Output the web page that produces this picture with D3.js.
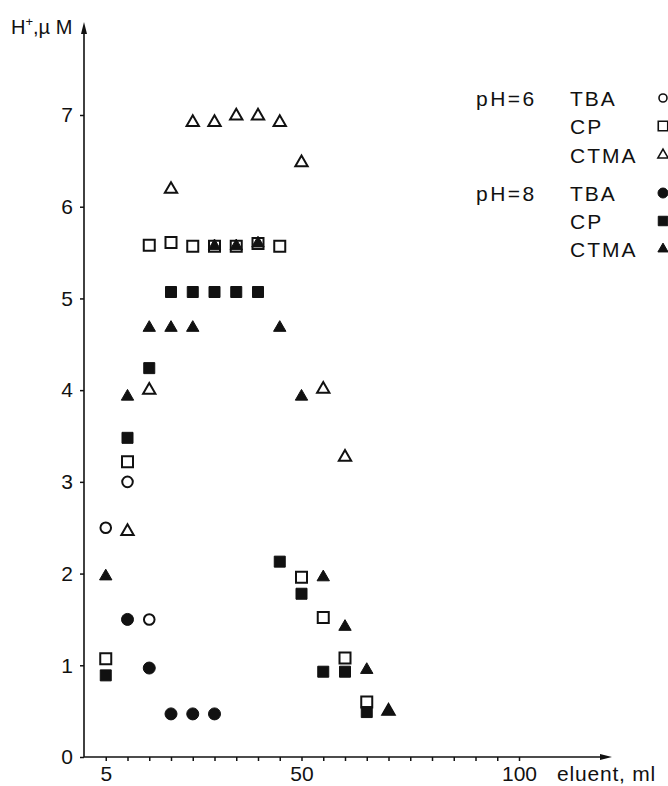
<!DOCTYPE html>
<html>
<head>
<meta charset="utf-8">
<script src="https://cdn.jsdelivr.net/npm/d3@7"></script>
<style>
  body { margin: 0; background: #fff; }
  text { font-family: "Liberation Sans", Arial, sans-serif; fill: #111; }
</style>
</head>
<body>
<script>
// eluent volume (ml) where fractions were collected
const eluent = [5, 10, 15, 20, 25, 30, 35, 40, 45, 50, 55, 60, 65, 70]

// H+ in uM, null = no point
const tba6  = [2.5, 3.0, 1.5, null, null, null, null, null, null, null, null, null, null, null]
const cp6   = [1.07, 3.22, 5.58, 5.61, 5.57, 5.57, 5.57, 5.6, 5.57, 1.96, 1.52, 1.08, 0.6, null]
const ctma6 = [null, 2.46, 4.0, 6.19, 6.92, 6.92, 6.99, 6.99, 6.92, 6.48, 4.01, 3.27, null, 0.5]
const tba8  = [null, 1.5, 0.97, 0.47, 0.47, 0.47, null, null, null, null, null, null, null, null]
const cp8   = [0.89, 3.48, 4.24, 5.07, 5.07, 5.07, 5.07, 5.07, 2.13, 1.78, 0.93, 0.93, 0.49, null]
const ctma8 = [1.97, 3.93, 4.68, 4.68, 4.68, 5.57, 5.57, 5.6, 4.68, 3.93, 1.96, 1.42, 0.95, 0.5]

const xTicks = [5, 10, 15, 20, 25, 30, 35, 40, 45, 50, 55, 60, 65, 70, 75, 80, 85, 90, 95, 100]
const xLabels = [5, 50, 100]
const yTicks = [0, 1, 2, 3, 4, 5, 6, 7]

const legendGroups = ['pH=6', 'pH=8']
const legendNames = ['TBA', 'CP', 'CTMA']

let svg = d3.select('body').append('svg')
    .attr('width', 668)
    .attr('height', 786)

let xScale = d3.scaleLinear()
    .domain([0, 100])
    .range([84, 519])

let yScale = d3.scaleLinear()
    .domain([0, 7])
    .range([757, 115])

// x axis, ticks every 5, labels only at 5, 50, 100
let xAxis = d3.axisBottom(xScale)
    .tickValues(xTicks)
    .tickSize(4)
    .tickFormat(function(d) { return xLabels.includes(d) ? d : '' })

let gx = svg.append('g')
    .attr('transform', 'translate(0,' + yScale(0) + ')')
    .call(xAxis)
gx.select('.domain').remove()
gx.selectAll('line').attr('stroke', '#111').attr('stroke-width', 1.5)
gx.selectAll('text').attr('font-size', 21).attr('dy', 0).attr('y', 24)

svg.append('line')
    .attr('x1', xScale(0)).attr('x2', 604)
    .attr('y1', yScale(0)).attr('y2', yScale(0))
    .attr('stroke', '#111').attr('stroke-width', 1.6)
svg.append('path')
    .attr('d', 'M612,' + yScale(0) + ' l-12,-3 l0,6 z')
    .attr('fill', '#111')

// y axis
let yAxis = d3.axisLeft(yScale)
    .tickValues(yTicks)
    .tickSize(4)
    .tickPadding(7)
    .tickFormat(d3.format('d'))

let gy = svg.append('g')
    .attr('transform', 'translate(' + xScale(0) + ',0)')
    .call(yAxis)
gy.select('.domain').remove()
gy.selectAll('line').attr('stroke', '#111').attr('stroke-width', 1.5)
gy.selectAll('text').attr('font-size', 21)

svg.append('line')
    .attr('x1', xScale(0)).attr('x2', xScale(0))
    .attr('y1', yScale(0)).attr('y2', 32)
    .attr('stroke', '#111').attr('stroke-width', 1.6)
svg.append('path')
    .attr('d', 'M' + xScale(0) + ',22 l-3,12 l6,0 z')
    .attr('fill', '#111')

// axis titles
let yt = svg.append('text')
    .attr('x', 11).attr('y', 34)
    .attr('font-size', 20)
yt.append('tspan').text('H')
yt.append('tspan').attr('font-size', 13).attr('dy', -8).text('+')
yt.append('tspan').attr('dy', 8).text(',\u00b5 M')

svg.append('text')
    .attr('x', 557).attr('y', 781)
    .attr('font-size', 21)
    .attr('letter-spacing', 0.8)
    .text('eluent, ml')

// markers
const sqr = d3.symbol().type(d3.symbolSquare).size(121)
const tri = d3.symbol().type(d3.symbolTriangle).size(66)

function points(values) {
    let pts = []
    for (let i = 0; i < eluent.length; i++) {
        if (values[i] !== null) pts.push([eluent[i], values[i]])
    }
    return pts
}

function drawSeries(values, kind, filled) {
    let g = svg.append('g')
    let sel = g.selectAll('.m').data(points(values)).enter()
    let m
    if (kind === 'circle') {
        m = sel.append('circle')
            .attr('cx', function(d) { return xScale(d[0]) })
            .attr('cy', function(d) { return yScale(d[1]) })
            .attr('r', filled ? 6 : 5.3)
    } else {
        m = sel.append('path')
            .attr('d', kind === 'square' ? sqr() : tri())
            .attr('transform', function(d) {
                return 'translate(' + xScale(d[0]) + ',' + yScale(d[1]) + ')'
            })
    }
    m.attr('fill', filled ? '#111' : 'none')
        .attr('stroke', '#111')
        .attr('stroke-width', filled ? 1 : 2)
}

drawSeries(tba6, 'circle', false)
drawSeries(cp6, 'square', false)
drawSeries(ctma6, 'triangle', false)
drawSeries(tba8, 'circle', true)
drawSeries(cp8, 'square', true)
drawSeries(ctma8, 'triangle', true)

// legend
const legendRows = [98, 126, 155, 193, 221, 249]
const kinds = ['circle', 'square', 'triangle']
let lg = svg.append('g')
for (let gi = 0; gi < legendGroups.length; gi++) {
    lg.append('text')
        .attr('x', 476).attr('y', legendRows[gi * 3] + 8)
        .attr('font-size', 21)
        .attr('letter-spacing', 2.5)
        .text(legendGroups[gi])
    for (let k = 0; k < legendNames.length; k++) {
        let cy = legendRows[gi * 3 + k]
        lg.append('text')
            .attr('x', 570).attr('y', cy + 8)
            .attr('font-size', 21)
            .attr('letter-spacing', 2)
            .text(legendNames[k])
        let filled = gi === 1
        if (kinds[k] === 'circle') {
            lg.append('circle').attr('cx', 663).attr('cy', cy)
                .attr('r', filled ? 5 : 4)
                .attr('fill', filled ? '#111' : 'none')
                .attr('stroke', '#111').attr('stroke-width', filled ? 1 : 1.6)
        } else {
            let sym = kinds[k] === 'square'
                ? d3.symbol().type(d3.symbolSquare).size(90)
                : d3.symbol().type(d3.symbolTriangle).size(45)
            lg.append('path').attr('d', sym())
                .attr('transform', 'translate(663,' + cy + ')')
                .attr('fill', filled ? '#111' : 'none')
                .attr('stroke', '#111').attr('stroke-width', filled ? 1 : 1.6)
        }
    }
}
</script>
</body>
</html>
